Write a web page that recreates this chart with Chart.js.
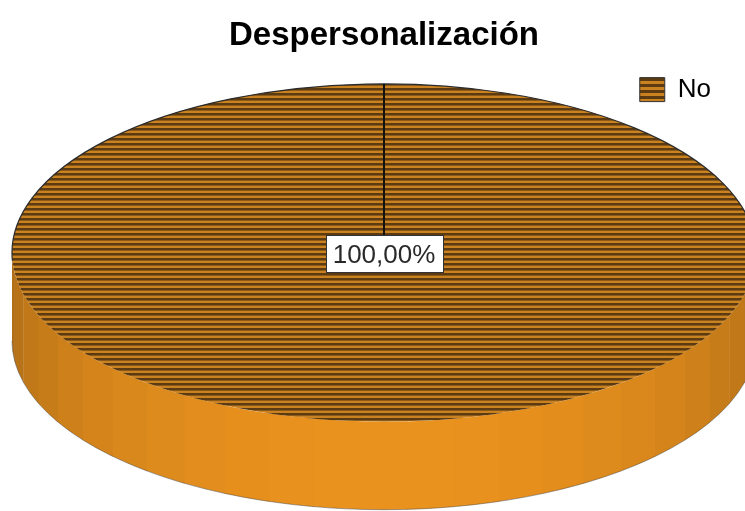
<!DOCTYPE html>
<html lang="es">
<head>
<meta charset="utf-8">
<title>Despersonalización</title>
<script src="https://cdn.jsdelivr.net/npm/chart.js@4.4.1/dist/chart.umd.min.js"></script>
<style>
  html, body { margin: 0; padding: 0; background: #fff; }
  canvas { display: block; }
</style>
</head>
<body>
<canvas id="pie" width="745" height="511"></canvas>
<script>
// categories and their share of the sample (%)
const categories = ['No'];
const percents = [100];

const FONT = "'Liberation Sans', Arial, sans-serif";
const ORANGE = '#ca8220';
const STRIPE = '#5c3b12';
const SIDE_RGB = [234, 146, 30];
const TILT = 0.454;   // how flat the disc face looks
const DEPTH = 88;     // thickness of the disc, px
const RADIUS = 372;

// horizontal stripe fill, drawn at 2x and scaled down; scaleY undoes
// the squash applied to the face
function stripes(period, dark, scaleY) {
  const c = document.createElement('canvas');
  c.width = 8;
  c.height = period * 2;
  const g = c.getContext('2d');
  g.fillStyle = ORANGE;
  g.fillRect(0, 0, 8, period * 2);
  g.fillStyle = STRIPE;
  g.fillRect(0, 0, 8, dark * 2);
  const p = g.createPattern(c, 'repeat');
  p.setTransform(new DOMMatrix().scale(1, 0.5 * scaleY));
  return p;
}

const facePattern = stripes(5, 2.5, 1 / TILT);
const legendPattern = stripes(6, 3, 1);

function pctLabel(v, total) {
  return (v / total * 100).toFixed(2).replace('.', ',') + '%';
}

const disc3d = {
  id: 'disc3d',
  beforeDatasetsDraw(chart) {
    const arcs = chart.getDatasetMeta(0).data;
    if (!arcs.length) return;
    const ctx = chart.ctx;
    const { x, y, outerRadius: r } = arcs[0];
    const ry = r * TILT;

    // front wall, cut in flat facets shaded by the way they face
    const n = 25;
    for (let i = 0; i < n; i++) {
      const a0 = Math.PI * i / n;
      const a1 = Math.min(Math.PI, Math.PI * (i + 1) / n + 0.003);
      const k = 0.74 + 0.26 * Math.sin((a0 + a1) / 2);
      ctx.fillStyle = 'rgb(' + SIDE_RGB.map(v => Math.round(v * k)).join(',') + ')';
      ctx.beginPath();
      ctx.ellipse(x, y, r, ry, 0, a0, a1);
      ctx.lineTo(x + r * Math.cos(a1), y + ry * Math.sin(a1) + DEPTH);
      ctx.ellipse(x, y + DEPTH, r, ry, 0, a1, a0, true);
      ctx.closePath();
      ctx.fill();
    }
    // faint edge along the bottom of the wall
    ctx.strokeStyle = 'rgba(60,60,60,0.45)';
    ctx.lineWidth = 1;
    ctx.beginPath();
    ctx.ellipse(x, y + DEPTH, r, ry, 0, 0, Math.PI);
    ctx.stroke();

    // squash the face so the library's arcs land on the ellipse
    ctx.save();
    ctx.translate(x, y);
    ctx.scale(1, TILT);
    ctx.translate(-x, -y);
    this._squashed = true;
  },
  afterDatasetsDraw(chart) {
    if (!this._squashed) return;
    const ctx = chart.ctx;
    ctx.restore();
    this._squashed = false;

    const meta = chart.getDatasetMeta(0);
    const values = chart.data.datasets[0].data;
    const total = values.reduce((s, v) => s + v, 0);
    const { x, y, outerRadius: r } = meta.data[0];
    const ry = r * TILT;

    // dark rim along the back of the face
    ctx.strokeStyle = '#2a2a2a';
    ctx.lineWidth = 1.2;
    ctx.beginPath();
    ctx.ellipse(x, y, r, ry, 0, Math.PI * 0.985, Math.PI * 2.015);
    ctx.stroke();

    // slice boundaries
    ctx.strokeStyle = '#111';
    ctx.lineWidth = 2;
    meta.data.forEach(arc => {
      const a = arc.startAngle;
      ctx.beginPath();
      ctx.moveTo(arc.x, arc.y);
      ctx.lineTo(arc.x + r * Math.cos(a), arc.y + ry * Math.sin(a));
      ctx.stroke();
    });

    // value labels in white boxes
    ctx.font = '26px ' + FONT;
    ctx.textAlign = 'center';
    ctx.textBaseline = 'middle';
    meta.data.forEach((arc, i) => {
      const full = arc.circumference >= Math.PI * 2 - 1e-6;
      const mid = (arc.startAngle + arc.endAngle) / 2;
      const lx = full ? arc.x : arc.x + r * 0.6 * Math.cos(mid);
      const ly = full ? arc.y : arc.y + ry * 0.6 * Math.sin(mid);
      const text = pctLabel(values[i], total);
      const w = Math.round(ctx.measureText(text).width + 14);
      const h = 37;
      const bx = Math.round(lx - w / 2) + 0.5;
      const by = Math.round(ly - h / 2) + 1.5;
      ctx.fillStyle = '#fff';
      ctx.fillRect(bx, by, w, h);
      ctx.strokeStyle = '#333';
      ctx.lineWidth = 1;
      ctx.strokeRect(bx, by, w, h);
      ctx.fillStyle = '#2a2a2a';
      ctx.fillText(text, lx, ly + 3);
    });
  }
};

new Chart(document.getElementById('pie'), {
  type: 'pie',
  data: {
    labels: categories,
    datasets: [{
      data: percents,
      backgroundColor: categories.map(() => facePattern),
      borderWidth: 0,
      radius: RADIUS,
      clip: false
    }]
  },
  options: {
    responsive: false,
    animation: false,
    events: [],
    layout: { padding: { top: 6, left: 47, right: 24, bottom: 118 } },
    plugins: {
      title: {
        display: true,
        text: 'Despersonalización',
        color: '#000',
        font: { family: FONT, size: 33, weight: 'bold' },
        padding: { top: 10, bottom: 11 }
      },
      legend: {
        position: 'top',
        align: 'end',
        labels: {
          font: { family: FONT, size: 26 },
          color: '#222',
          boxWidth: 25,
          boxHeight: 24,
          padding: 10,
          generateLabels: () => categories.map((c, i) => ({
            text: c,
            fillStyle: legendPattern,
            strokeStyle: '#333',
            lineWidth: 1,
            hidden: false,
            index: i
          }))
        }
      },
      tooltip: { enabled: false }
    }
  },
  plugins: [disc3d]
});
</script>
</body>
</html>
